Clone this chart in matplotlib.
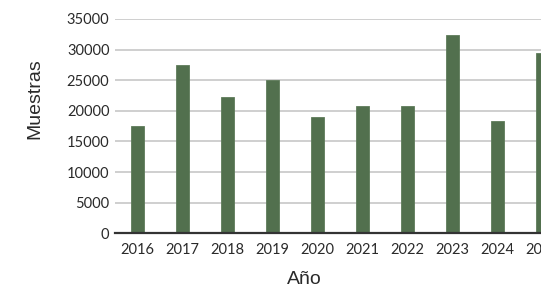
import matplotlib
matplotlib.use("Agg")
import matplotlib.pyplot as plt

years = ["2016", "2017", "2018", "2019", "2020", "2021", "2022", "2023", "2024", "2025"]
samples = [17500, 27500, 22300, 25000, 19000, 20800, 20800, 32400, 18400, 29500]
yticks = [0, 5000, 10000, 15000, 20000, 25000, 30000, 35000]

W, H = 541, 288
fig = plt.figure(figsize=(W / 100, H / 100), dpi=100)
left, right = 115, 564.5
top, bottom = 19, 233.3
ax = fig.add_axes([left / W, 1 - bottom / H, (right - left) / W, (bottom - top) / H])

x = list(range(len(years)))
ax.bar(x, samples, width=0.29, color="#52704E", edgecolor="#5E7C5A", linewidth=0.6, zorder=3)

ax.set_xlim(-0.5, len(years) - 0.5)
ax.set_ylim(0, 35000)
ax.set_yticks(yticks)
ax.set_xticks(x)
ax.set_xticklabels(years)
ax.grid(axis="y", color="#cccccc", linewidth=1.3, zorder=0)
for s in ["top", "right", "left"]:
    ax.spines[s].set_visible(False)
ax.spines["bottom"].set_color("#333333")
ax.spines["bottom"].set_linewidth(1.6)
ax.spines["bottom"].set_zorder(4)
ax.tick_params(length=0, colors="#2a2a2a", labelsize=10.5)
ax.tick_params(axis="y", pad=4)
ax.tick_params(axis="x", pad=7)
for lab in ax.get_xticklabels() + ax.get_yticklabels():
    lab.set_family("Lato")

ax.set_ylabel("Muestras", fontsize=14, family="Liberation Sans", color="#2a2a2a")
ax.set_xlabel("Año", fontsize=14, family="Liberation Sans", color="#2a2a2a")
ax.yaxis.set_label_coords((35 - left) / (right - left), (bottom - 99) / (bottom - top))
ax.xaxis.set_label_coords((304 - left) / (right - left), -(280 - bottom) / (bottom - top))
ax.xaxis.label.set_va("center")
ax.yaxis.label.set_va("center")

fig.savefig("out.png", dpi=100)
